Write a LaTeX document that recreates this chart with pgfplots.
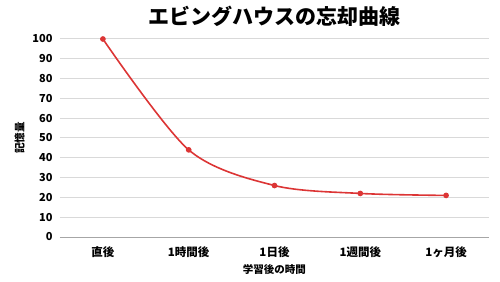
\documentclass[border=0pt]{standalone}
\usepackage{fontspec}
\setmainfont{Noto Sans CJK JP}
\usepackage{pgfplots}
\pgfplotsset{compat=1.18}
\usetikzlibrary{calc}
\definecolor{linered}{HTML}{DC3535}
\definecolor{gridgray}{HTML}{D9D9D9}
\definecolor{axisgray}{HTML}{A6A6A6}
\begin{document}
\begin{tikzpicture}
\begin{axis}[
  name=ax,
  at={(0,0)}, anchor=south west,
  scale only axis,
  width=429pt, height=198pt,
  xmin=-0.5, xmax=4.5,
  ymin=0, ymax=100,
  xtick={0,1,2,3,4},
  xticklabels={直後,1時間後,1日後,1週間後,1ヶ月後},
  ytick={0,10,...,100},
  /pgf/number format/assume math mode=true,
  yticklabel style={font=\fontsize{11}{13}\selectfont\bfseries, xshift=-4pt},
  xticklabel style={font=\fontsize{11.5}{13}\selectfont\bfseries, yshift=-6pt},
  major tick length=0pt,
  ymajorgrids,
  grid style={gridgray, line width=1pt},
  axis x line*=bottom,
  axis y line*=left,
  y axis line style={draw=none},
  x axis line style={axisgray, line width=1pt, -},
  xlabel={学習後の時間},
  ylabel={記憶量},
  label style={font=\fontsize{10.5}{12}\selectfont\bfseries},
  xlabel style={yshift=0pt},
  ylabel style={yshift=1pt},
  title={エビングハウスの忘却曲線},
  title style={font=\fontsize{21}{24}\selectfont\bfseries, yshift=3pt},
  clip=false,
]
\addplot[linered, line width=1.6pt, smooth, mark=*, mark size=2pt, mark options={fill=linered, draw=linered}]
coordinates {(0,100) (1,44) (2,26) (3,22) (4,21)};
\end{axis}
\pgfresetboundingbox
\path ($(ax.south west)+(-60pt,-44pt)$) rectangle ($(ax.south west)+(440pt,237pt)$);
\end{tikzpicture}
\end{document}
